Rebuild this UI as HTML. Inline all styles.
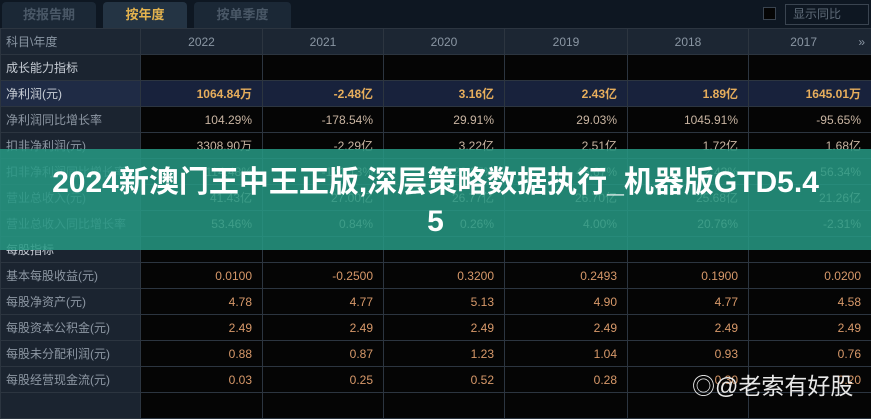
<!DOCTYPE html>
<html><head><meta charset="utf-8"><style>
*{margin:0;padding:0;box-sizing:border-box}
body{width:871px;height:400px;overflow:hidden;background:#0b1119;font-family:"Liberation Sans","Noto Sans CJK SC",sans-serif;position:relative}
.tabs{position:absolute;left:0;top:0;width:871px;height:28px;background:#0e1722}
.tab{position:absolute;top:2px;height:26px;border-radius:4px 4px 0 0;background:#1b2836;color:#4a5867;font-size:13px;font-weight:bold;text-align:center;line-height:26px}
table{position:absolute;left:0;top:28px;border-collapse:collapse;table-layout:fixed;width:871px}
td{height:26px;border:1px solid #2c3540;font-size:12px;text-align:right;padding-right:10px;color:#c9b5a2;background:#050505;white-space:nowrap;overflow:hidden}
tr td:first-child{text-align:left;padding-left:5px;color:#8d97a3;background:#1b2430;font-weight:normal}
tr.h td{background:#1c2633;color:#8a96a3;text-align:center;padding:0}
tr.h td:first-child{text-align:left;padding-left:5px}
tr.g td:first-child{color:#c8ced6}
tr.np td{background:#18223c;color:#e7ae5c;font-weight:bold}
tr.np td:first-child{background:#1f2b45;color:#c8ced6;font-weight:normal}
tr.ps td{color:#d8996a}
tr.ps td:first-child{color:#8d97a3}
.bt{position:absolute;left:0;width:871px;text-align:center;color:#fff;font-weight:bold;font-size:30px;line-height:36px}
.wm{position:absolute;left:692px;top:367px;color:#e8e8e8;font-size:23px}
</style></head><body>
<div class="tabs">
<div class="tab" style="left:2px;width:94px">按报告期</div>
<div class="tab" style="left:103px;width:84px;background:#243444;color:#e3b24e">按年度</div>
<div class="tab" style="left:194px;width:97px">按单季度</div>
<div style="position:absolute;left:763px;top:7px;width:13px;height:13px;border:1px solid #3a4450;background:#050505"></div>
<div style="position:absolute;left:785px;top:4px;width:84px;height:21px;border:1px solid #3a4450;color:#5f6b78;font-size:12px;line-height:19px;padding-left:7px">显示同比</div>
</div>
<table>
<colgroup><col style="width:140px"><col style="width:122px"><col style="width:121px"><col style="width:121px"><col style="width:123px"><col style="width:121px"><col style="width:123px"></colgroup>
<tr class="h"><td>科目\年度</td><td>2022</td><td>2021</td><td>2020</td><td>2019</td><td>2018</td><td>2017 <span style="float:right;margin-right:6px">»</span></td></tr>
<tr class="g"><td>成长能力指标</td><td></td><td></td><td></td><td></td><td></td><td></td></tr>
<tr class="np"><td>净利润(元)</td><td>1064.84万</td><td>-2.48亿</td><td>3.16亿</td><td>2.43亿</td><td>1.89亿</td><td>1645.01万</td></tr>
<tr><td>净利润同比增长率</td><td>104.29%</td><td>-178.54%</td><td>29.91%</td><td>29.03%</td><td>1045.91%</td><td>-95.65%</td></tr>
<tr><td>扣非净利润(元)</td><td>3308.90万</td><td>-2.29亿</td><td>3.22亿</td><td>2.51亿</td><td>1.72亿</td><td>1.68亿</td></tr>
<tr><td>扣非净利润同比增长率</td><td>114.48%</td><td>-171.13%</td><td>28.27%</td><td>45.67%</td><td>2.43%</td><td>56.34%</td></tr>
<tr><td>营业总收入(元)</td><td>41.43亿</td><td>27.00亿</td><td>26.77亿</td><td>26.70亿</td><td>25.68亿</td><td>21.26亿</td></tr>
<tr><td>营业总收入同比增长率</td><td>53.46%</td><td>0.84%</td><td>0.26%</td><td>4.00%</td><td>20.76%</td><td>-2.31%</td></tr>
<tr class="g"><td>每股指标</td><td></td><td></td><td></td><td></td><td></td><td></td></tr>
<tr class="ps"><td>基本每股收益(元)</td><td>0.0100</td><td>-0.2500</td><td>0.3200</td><td>0.2493</td><td>0.1900</td><td>0.0200</td></tr>
<tr class="ps"><td>每股净资产(元)</td><td>4.78</td><td>4.77</td><td>5.13</td><td>4.90</td><td>4.77</td><td>4.58</td></tr>
<tr class="ps"><td>每股资本公积金(元)</td><td>2.49</td><td>2.49</td><td>2.49</td><td>2.49</td><td>2.49</td><td>2.49</td></tr>
<tr class="ps"><td>每股未分配利润(元)</td><td>0.88</td><td>0.87</td><td>1.23</td><td>1.04</td><td>0.93</td><td>0.76</td></tr>
<tr class="ps"><td>每股经营现金流(元)</td><td>0.03</td><td>0.25</td><td>0.52</td><td>0.28</td><td>0.30</td><td>0.20</td></tr>
<tr class="ps"><td></td><td></td><td></td><td></td><td></td><td></td><td></td></tr>
</table>
<div style="position:absolute;left:0;top:149px;width:871px;height:101px;background:rgba(38,152,132,0.86)"></div>
<div class="bt" style="top:165px">2024新澳门王中王正版,深层策略数据执行_机器版GTD5.4</div>
<div class="bt" style="top:204px">5</div>
<div class="wm">◎@老索有好股</div>
</body></html>
